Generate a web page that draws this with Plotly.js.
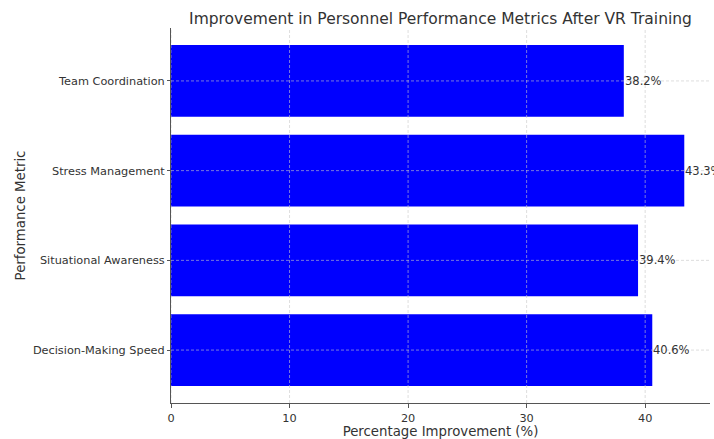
<!DOCTYPE html>
<html><head><meta charset="utf-8">
<script src="https://cdn.plot.ly/plotly-3.0.1.min.js"></script>
<style>html,body{margin:0;padding:0;background:#fff}#c{width:714px;height:439px}</style>
</head><body><div id="c"></div>
<script>
const categories = ["Decision-Making Speed", "Situational Awareness", "Stress Management", "Team Coordination"];
const improvements = [40.6, 39.4, 43.3, 38.2];
const xTicks = [0, 10, 20, 30, 40];

const trace = {
  type: 'bar', orientation: 'h',
  y: categories, x: improvements,
  marker: {color: '#0000ff'},
  width: 0.8,
  cliponaxis: false,
  hoverinfo: 'skip'
};

// value labels placed at each bar end, built from the data arrays
const annotations = categories.map((c, i) => ({
  x: improvements[i], y: c, xref: 'x', yref: 'y',
  text: improvements[i].toFixed(1) + '%', showarrow: false,
  xanchor: 'left', yanchor: 'middle', xshift: -1,
  font: {family: 'DejaVu Sans', size: 11.5, color: '#333333'}
}));

// grid lines drawn above the bars (as in the reference), positioned from the tick / category arrays
const gridStyle = {color: 'rgba(200,200,200,0.75)', width: 0.8, dash: '3px,2px'};
const shapes = [];
xTicks.forEach(t => shapes.push({type: 'line', layer: 'above', xref: 'x', yref: 'paper',
  x0: t, x1: t, y0: 0, y1: 1, line: gridStyle}));
categories.forEach(c => shapes.push({type: 'line', layer: 'above', xref: 'paper', yref: 'y',
  x0: 0, x1: 1, y0: c, y1: c, line: gridStyle}));

const layout = {
  width: 714, height: 439,
  margin: {l: 171, r: 4, t: 28, b: 36},
  paper_bgcolor: '#fff', plot_bgcolor: '#fff',
  font: {family: 'DejaVu Sans', color: '#333333'},
  title: {text: 'Improvement in Personnel Performance Metrics After VR Training',
          font: {size: 15.5, color: '#333333'}, x: 0.617, xanchor: 'center', y: 0.957, yanchor: 'middle'},
  xaxis: {
    range: [0, 45.47], tickvals: xTicks, ticktext: xTicks.map(String),
    ticks: 'outside', ticklen: 4, tickcolor: '#555', tickfont: {size: 11.3},
    showline: true, linecolor: '#555', linewidth: 1,
    showgrid: false, zeroline: false,
    title: {text: 'Percentage Improvement (%)', font: {size: 13.3}, standoff: 4}
  },
  yaxis: {
    range: [-0.59, 3.59],
    ticks: 'outside', ticklen: 3, tickcolor: '#555', tickfont: {size: 11.3},
    showline: true, linecolor: '#555', linewidth: 1,
    showgrid: false, zeroline: false,
    title: {text: 'Performance Metric', font: {size: 13.3}, standoff: 4}
  },
  shapes: shapes,
  annotations: annotations,
  showlegend: false
};

Plotly.newPlot('c', [trace], layout, {displayModeBar: false, staticPlot: true});
</script></body></html>
